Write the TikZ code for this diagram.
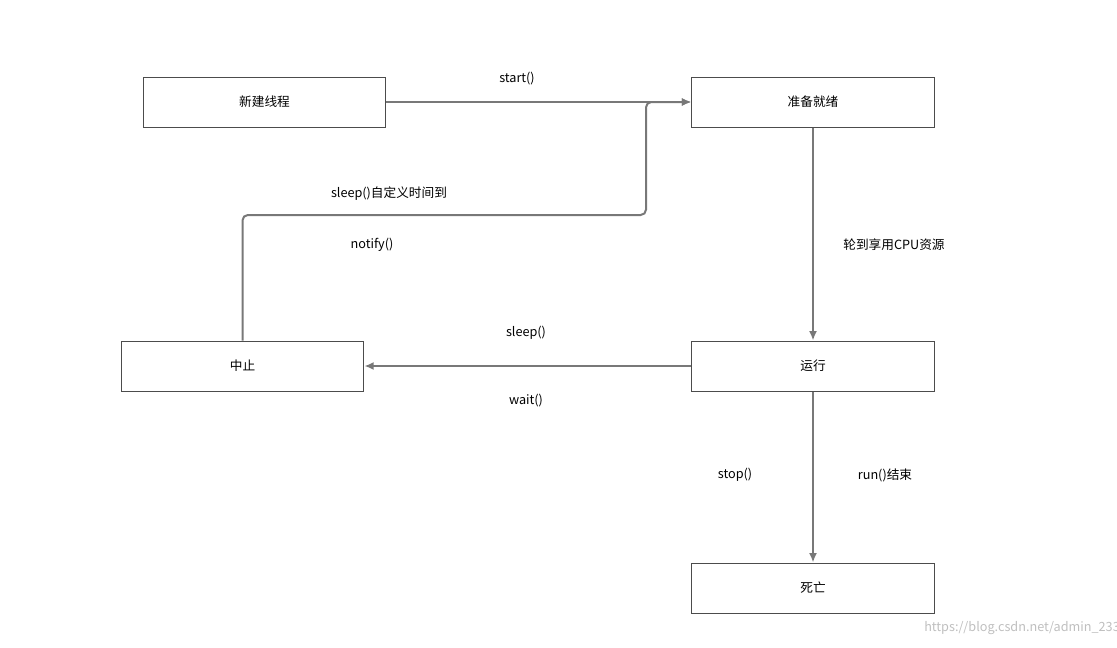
\documentclass[tikz,border=0pt]{standalone}
\usepackage{fontspec}
\setmainfont{Noto Sans CJK SC}
\usetikzlibrary{positioning,arrows.meta}
\definecolor{flowgray}{RGB}{120,120,120}
\tikzset{every picture/.style={line width=0.75pt}}

\begin{document}
\begin{tikzpicture}[x=0.75pt,y=0.75pt,yscale=-1,xscale=1,
  state/.style={draw=black!70,line width=0.75pt,minimum width=182pt,minimum height=37.5pt,inner sep=0pt,font=\fontsize{9.5}{11}\selectfont},
  flow/.style={draw=flowgray,line width=1.5pt,-{Latex[length=7pt,width=6pt]}},
  lbl/.style={inner sep=0.75pt,font=\fontsize{9.5}{11}\selectfont}]
\useasboundingbox (0,0) rectangle (1117,647);

% States
\node [state] (new) at (264.5,102) {新建线程};
\node [state] (ready) at (813,102) {准备就绪};
\node [state] (block) at (242.5,366) {中止};
\node [state] (run) at (813,366) {运行};
\node [state] (dead) at (813,588) {死亡};

% Transitions
\draw [flow] (new) -- (ready);
\draw [flow,rounded corners=4pt] (block.north) -- (242.5,215) -- (646,215) -- (646,102) -- (ready.west);
\draw [flow] (ready) -- (run);
\draw [flow] (run) -- (block);
\draw [flow] (run) -- (dead);

% Labels
\node [lbl] (lstart) at (517,79) {start()};
\node [lbl] (lsleepto) at (389,194) {sleep()自定义时间到};
\node [lbl] (lnotify) at (372,245) {notify()};
\node [lbl] (lcpu) at (894,245) {轮到享用CPU资源};
\node [lbl] (lsleep) at (526,333) {sleep()};
\node [lbl] (lwait) at (526,401) {wait()};
\node [lbl] (lstop) at (735,475) {stop()};
\node [lbl] (lrunend) at (885,475) {run()结束};
\node [lbl,text=black!25] (mark) at (1022,628) {https://blog.csdn.net/admin\_233};
\end{tikzpicture}
\end{document}
